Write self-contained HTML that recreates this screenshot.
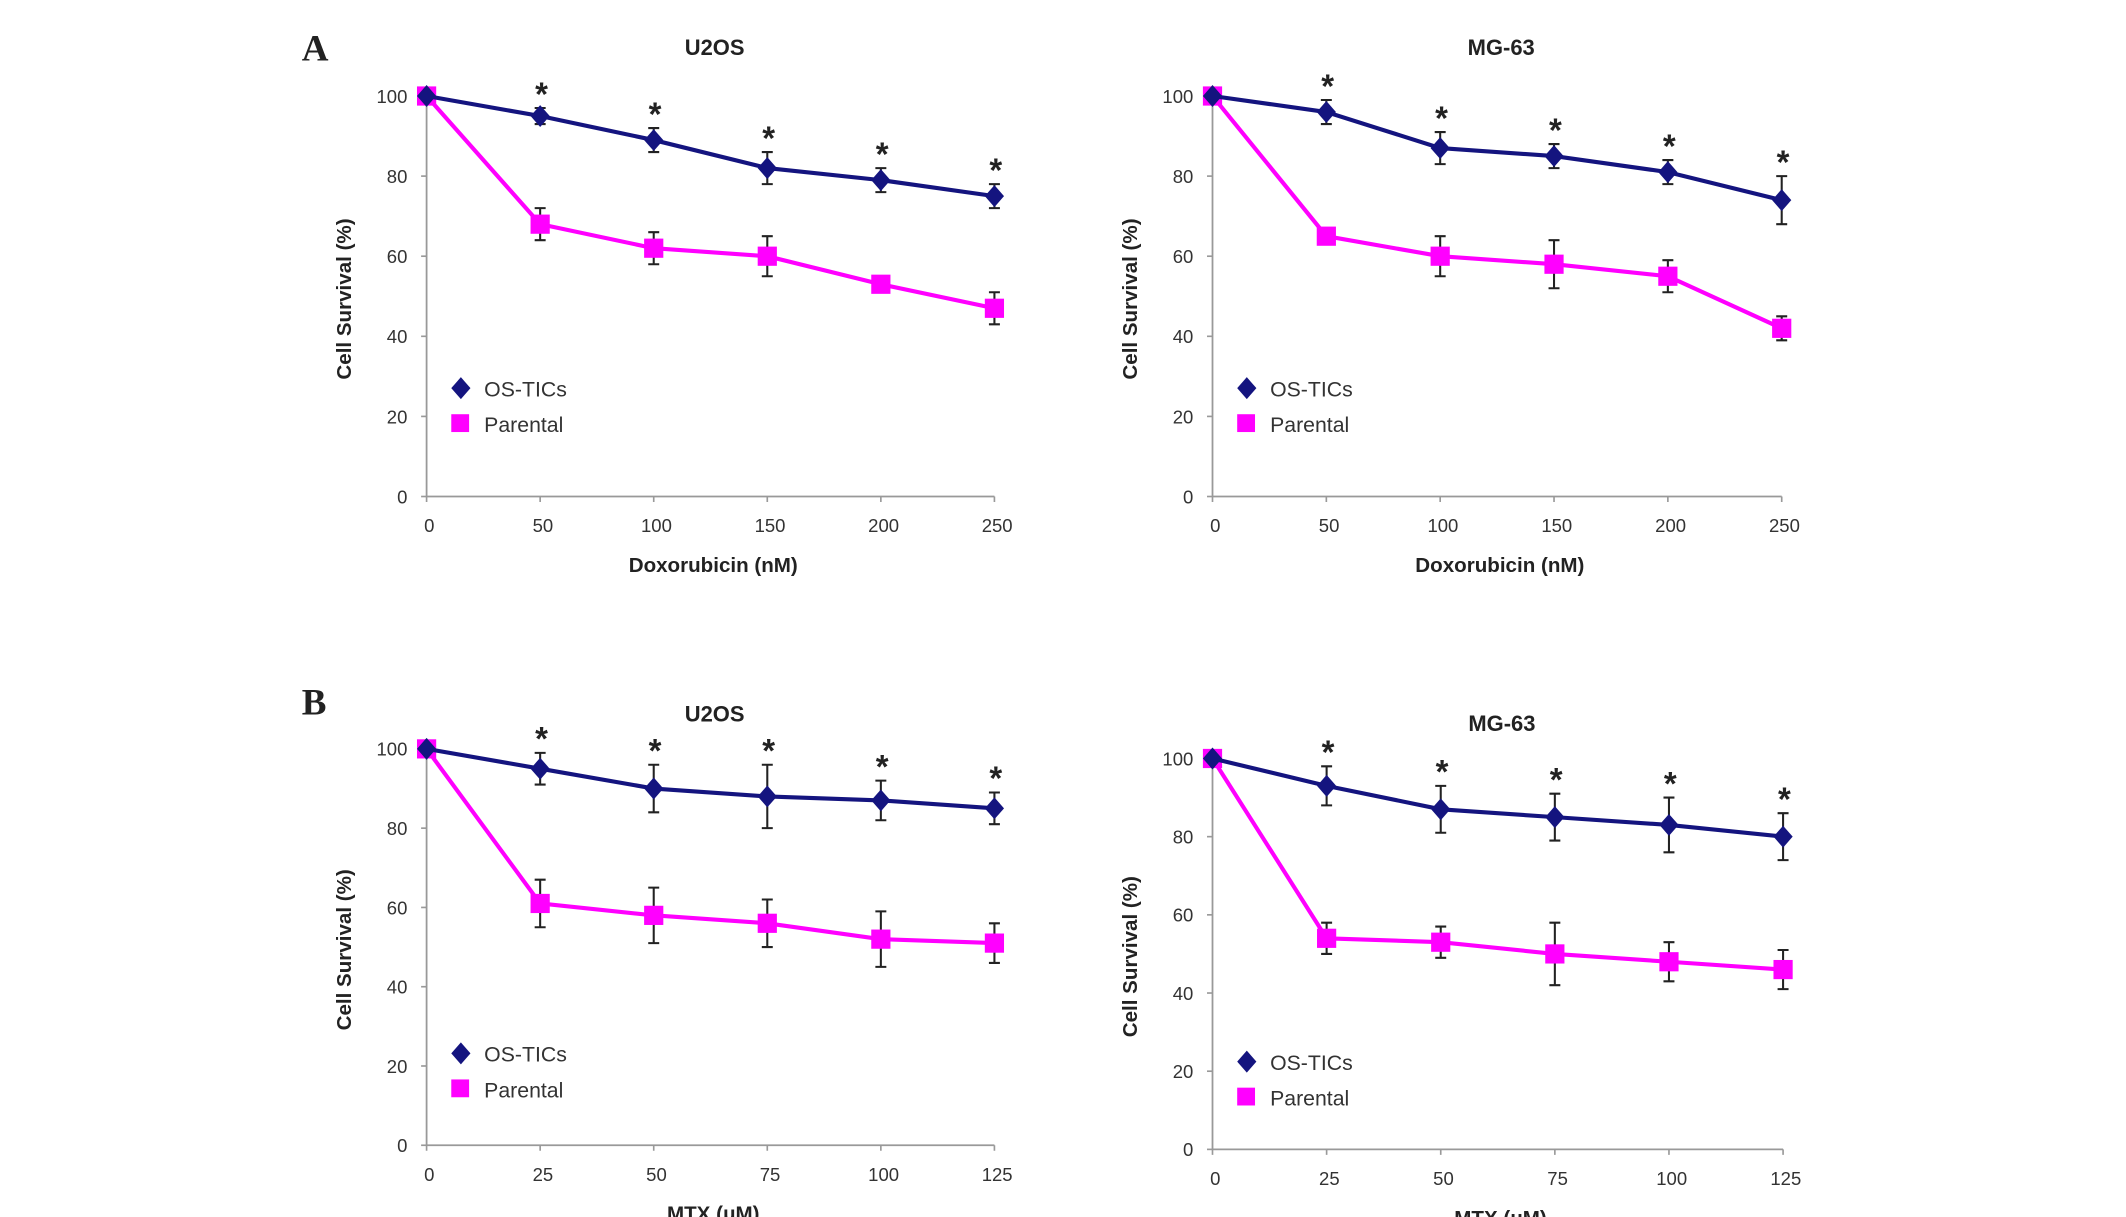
<!DOCTYPE html>
<html><head><meta charset="utf-8"><style>
html,body{margin:0;padding:0;background:#fff;}
svg{display:block;font-family:"Liberation Sans",Arial,sans-serif;}
</style></head><body>
<svg id="fig" width="2126" height="1217" viewBox="0 0 1550 887.3" xmlns="http://www.w3.org/2000/svg">
<rect width="1550" height="887.3" fill="#fff"/>
<text x="220" y="44" font-family="Liberation Serif,serif" font-weight="bold" font-size="27" fill="#222">A</text>
<text x="220" y="521" font-family="Liberation Serif,serif" font-weight="bold" font-size="27" fill="#222">B</text>
</svg>
<script>
const doses1 = [0, 50, 100, 150, 200, 250];
const doses2 = [0, 25, 50, 75, 100, 125];
const yTicks = [0, 20, 40, 60, 80, 100];
const aLeftOS = [100, 95, 89, 82, 79, 75];
const aLeftOSErr = [0, 2, 3, 4, 3, 3];
const aLeftPar = [100, 68, 62, 60, 53, 47];
const aLeftParErr = [0, 4, 4, 5, 1, 4];
const aRightOS = [100, 96, 87, 85, 81, 74];
const aRightOSErr = [0, 3, 4, 3, 3, 6];
const aRightPar = [100, 65, 60, 58, 55, 42];
const aRightParErr = [0, 1, 5, 6, 4, 3];
const bLeftOS = [100, 95, 90, 88, 87, 85];
const bLeftOSErr = [0, 4, 6, 8, 5, 4];
const bLeftPar = [100, 61, 58, 56, 52, 51];
const bLeftParErr = [0, 6, 7, 6, 7, 5];
const bRightOS = [100, 93, 87, 85, 83, 80];
const bRightOSErr = [0, 5, 6, 6, 7, 6];
const bRightPar = [100, 54, 53, 50, 48, 46];
const bRightParErr = [0, 4, 4, 8, 5, 5];

const NS = "http://www.w3.org/2000/svg";
const svg = document.getElementById('fig');
function el(tag, attrs, parent) {
  const e = document.createElementNS(NS, tag);
  for (const k in attrs) e.setAttribute(k, attrs[k]);
  (parent || svg).appendChild(e);
  return e;
}
function txt(x, y, s, size, extra, parent) {
  const t = el('text', Object.assign({x: x, y: y, 'font-size': size, fill: '#333'}, extra || {}), parent);
  t.textContent = s;
  return t;
}

function panel(cfg) {
  const g = el('g', {});
  
  
  const xs = v => cfg.x0 + (v - cfg.doses[0]) / (cfg.doses[cfg.doses.length - 1] - cfg.doses[0]) * (cfg.x1 - cfg.x0);
  const ys = v => cfg.y0 - v / 100 * (cfg.y0 - cfg.y100);
  // axes
  const ax = el('path', {d: `M${cfg.x0},${cfg.y100 - 2}V${cfg.y0}H${cfg.x1}`, stroke: '#999', 'stroke-width': 1.3, fill: 'none'}, g);
  
  
  yTicks.forEach(t => {
    el('line', {x1: cfg.x0 - 4, x2: cfg.x0, y1: ys(t), y2: ys(t), stroke: '#999', 'stroke-width': 1.2}, g);
    const l = txt(cfg.x0 - 14, ys(t) + 5, String(t), 13.5, {'text-anchor': 'end'}, g);
    
    
  });
  cfg.doses.forEach(d => {
    el('line', {x1: xs(d), x2: xs(d), y1: cfg.y0, y2: cfg.y0 + 4, stroke: '#999', 'stroke-width': 1.2}, g);
    const l = txt(xs(d) + 2, cfg.y0 + 26, String(d), 13.5, {'text-anchor': 'middle'}, g);
    
    
  });
  const tt = txt((cfg.x0 + cfg.x1) / 2 + 3, cfg.titleY, cfg.title, 16, {'text-anchor': 'middle', 'font-weight': 'bold', fill: '#222'}, g);
  
  
  const xt = txt((cfg.x0 + cfg.x1) / 2 + 2, cfg.y0 + 55, cfg.xTitle, 15, {'text-anchor': 'middle', 'font-weight': 'bold', fill: '#222'}, g);
  
  
  const ytx = cfg.x0 - 55, yty = (cfg.y0 + cfg.y100) / 2 + 2;
  const yt = txt(ytx, yty, 'Cell Survival (%)', 15, {'text-anchor': 'middle', 'font-weight': 'bold', fill: '#222', transform: `rotate(-90 ${ytx} ${yty})`}, g);
  
  

  function series(vals, errs, color, shape, nm) {
    const sg = el('g', {}, g);
    
    
    const pts = vals.map((v, i) => `${xs(cfg.doses[i])},${ys(v)}`).join(' ');
    el('polyline', {points: pts, stroke: color, 'stroke-width': 3, fill: 'none'}, sg);
    vals.forEach((v, i) => {
      const x = xs(cfg.doses[i]), y = ys(v), e = errs[i];
      if (e > 0) {
        const eb = el('path', {d: `M${x},${ys(v + e)}V${ys(v - e)}M${x - 4},${ys(v + e)}H${x + 4}M${x - 4},${ys(v - e)}H${x + 4}`, stroke: '#222', 'stroke-width': 1.5, fill: 'none'}, sg);
        
        
      }
      let m;
      if (shape === 'diamond') m = el('path', {d: `M${x},${y - 8}L${x + 7},${y}L${x},${y + 8}L${x - 7},${y}Z`, fill: color}, sg);
      else m = el('rect', {x: x - 7, y: y - 7, width: 14, height: 14, fill: color}, sg);
      
      
    });
  }
  series(cfg.par, cfg.parErr, '#ff00ff', 'square', 'series-parental');
  series(cfg.os, cfg.osErr, '#14147f', 'diamond', 'series-os-tics');
  cfg.os.forEach((v, i) => {
    if (i === 0) return;
    const s = txt(xs(cfg.doses[i]) + 1, ys(v + cfg.osErr[i]) - 2, '*', 24, {'text-anchor': 'middle', 'font-weight': 'bold', fill: '#222'}, g);
    
    
  });
  // legend
  const lg = el('g', {}, g);
  
  
  const lx = cfg.x0 + 25, ly = cfg.legY;
  el('path', {d: `M${lx},${ly - 8}L${lx + 7},${ly}L${lx},${ly + 8}L${lx - 7},${ly}Z`, fill: '#14147f'}, lg);
  const t1 = txt(lx + 17, ly + 6, 'OS-TICs', 15.5, {}, lg);
  
  
  el('rect', {x: lx - 7, y: ly + 26 - 7, width: 13, height: 13, fill: '#ff00ff'}, lg);
  const t2 = txt(lx + 17, ly + 32, 'Parental', 15.5, {}, lg);
  
  
}

panel({name: 'chart-a-u2os', doses: doses1, x0: 311, x1: 725, y0: 362, y100: 70, title: 'U2OS', titleY: 40, xTitle: 'Doxorubicin (nM)', legY: 283,
  os: aLeftOS, osErr: aLeftOSErr, par: aLeftPar, parErr: aLeftParErr});
panel({name: 'chart-a-mg63', doses: doses1, x0: 884, x1: 1299, y0: 362, y100: 70, title: 'MG-63', titleY: 40, xTitle: 'Doxorubicin (nM)', legY: 283,
  os: aRightOS, osErr: aRightOSErr, par: aRightPar, parErr: aRightParErr});
panel({name: 'chart-b-u2os', doses: doses2, x0: 311, x1: 725, y0: 835, y100: 546, title: 'U2OS', titleY: 526, xTitle: 'MTX (μM)', legY: 768,
  os: bLeftOS, osErr: bLeftOSErr, par: bLeftPar, parErr: bLeftParErr});
panel({name: 'chart-b-mg63', doses: doses2, x0: 884, x1: 1300, y0: 838, y100: 553, title: 'MG-63', titleY: 533, xTitle: 'MTX (μM)', legY: 774,
  os: bRightOS, osErr: bRightOSErr, par: bRightPar, parErr: bRightParErr});
</script>
</body></html>
